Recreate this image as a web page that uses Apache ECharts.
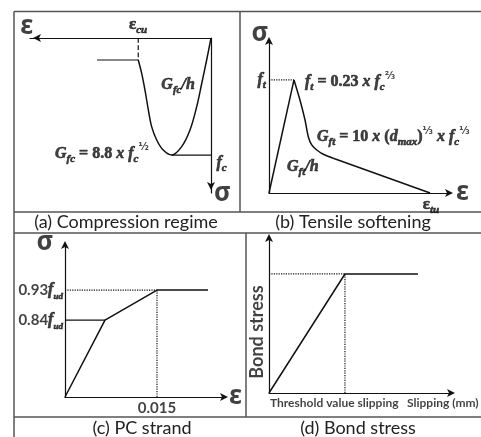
<!DOCTYPE html>
<html><head><meta charset="utf-8">
<script src="https://cdn.jsdelivr.net/npm/echarts@6/dist/echarts.min.js"></script>
<style>html,body{margin:0;padding:0;background:#fff}#c{width:481px;height:437px}</style>
</head><body><div id="c"></div><script>
// ---- (a) Compression regime (normalized units: strain to the left, stress downward)
const compStrain = [0, 2.4, 5.1, 7.9, 11.6, 16.2, 21.7, 26.4, 30.0, 32.8, 34.6, 36.5, 38.3, 40.2];
const compStress = [0, 14.2, 29.2, 44.3, 59.4, 70.1, 75.5, 72.3, 65.8, 57.2, 46.5, 33.5, 22.8, 14.2];
const compResidStrain = [40.2, 63];
const compResidStress = [14.2, 14.2];
const compFcStrain = [0, 21.7];
const compFcStress = [75.5, 75.5];
const compUltStrain = [40.2, 40.2];
const compUltStress = [0, 14.2];
// ---- (b) Tensile softening
const tensRiseStrain = [0, 13.8];
const tensRiseStress = [0, 73.9];
const tensSoftStrain = [13.8, 17.1, 19.9, 21.7, 23.6, 26.4, 30.0, 35.5];
const tensSoftStress = [73.9, 60.8, 47.7, 36.8, 31.4, 28.1, 25.3, 22.7];
const tensTailStrain = [35.5, 89.0];
const tensTailStress = [22.7, 0];
const tensFtStrain = [0, 13.8];
const tensFtStress = [73.9, 73.9];
// ---- (c) PC strand
const strandStrain = [0, 25, 57.5, 89.4];
const strandStress = [0, 50.3, 69.9, 69.9];
const strandLevels = [69.9, 50.3];      // 0.93 f_ud, 0.84 f_ud
const strandYieldStrain = 57.5;          // 0.015
// ---- (d) Bond stress
const bondSlip = [0, 41.5, 81.4];
const bondStress = [0, 76.3, 76.3];
// ---- captions
const captions = ['(a) Compression regime', '(b) Tensile softening', '(c) PC strand', '(d) Bond stress'];

const zip = (xs, ys) => xs.map((x, i) => [x, ys[i]]);
const INK = '#111';
function axis(extra, arrowAtStart) {
  return Object.assign({
    type: 'value', min: 0, max: 100,
    axisLine: { show: true, onZero: false, symbol: arrowAtStart ? ['arrow', 'none'] : ['none', 'arrow'],
      symbolSize: [6, 8], symbolOffset: arrowAtStart ? [3, 0] : [0, 3],
      lineStyle: { color: INK, width: 1.2 } },
    axisTick: { show: false }, axisLabel: { show: false }, splitLine: { show: false }
  }, extra);
}
function line(g, xs, ys, opts) {
  opts = opts || {};
  return {
    type: 'line', xAxisIndex: g, yAxisIndex: g, data: zip(xs, ys), showSymbol: false, silent: true,
    smooth: opts.smooth || false, animation: false,
    lineStyle: { color: INK, width: opts.width || 1.5, type: opts.type || 'solid' }
  };
}
const SER = 'Liberation Serif';
const thick = { textBorderColor: INK, textBorderWidth: 0.6 };
const rich = {
  m: Object.assign({ fontFamily: SER, fontStyle: 'italic', fontWeight: 'bold', fontSize: 16, lineHeight: 22, color: INK }, thick),
  n: Object.assign({ fontFamily: SER, fontWeight: 'bold', fontSize: 16, lineHeight: 22, color: INK }, thick),
  s: Object.assign({ fontFamily: SER, fontStyle: 'italic', fontWeight: 'bold', fontSize: 11, lineHeight: 13, verticalAlign: 'bottom', color: INK }, thick),
  p: { fontFamily: 'DejaVu Sans', fontWeight: 'bold', fontSize: 10, lineHeight: 12, verticalAlign: 'top', color: INK },
  g: { fontFamily: 'Noto Sans', fontWeight: 'bold', fontSize: 26, lineHeight: 28, color: INK },
  e: Object.assign({ fontFamily: SER, fontWeight: 'bold', fontSize: 17, lineHeight: 22, color: INK }, thick),
  k: { fontFamily: 'Lato', fontWeight: 'bold', fontSize: 15, lineHeight: 20, color: INK },
  ks: Object.assign({ fontFamily: SER, fontStyle: 'italic', fontWeight: 'bold', fontSize: 9, lineHeight: 12, verticalAlign: 'bottom', color: INK }, thick),
  t: { fontFamily: 'Lato', fontWeight: 'bold', fontSize: 12, lineHeight: 15, color: INK },
  b: { fontFamily: 'Lato', fontWeight: 'bold', fontSize: 18, lineHeight: 20, color: INK }
};
function labels(g, items) {
  return {
    type: 'scatter', xAxisIndex: g, yAxisIndex: g, symbolSize: 1, silent: true, clip: false, animation: false,
    itemStyle: { color: 'rgba(0,0,0,0)' },
    data: items.map(it => ({
      value: [it[0], it[1]],
      label: Object.assign({ show: true, position: 'inside', align: it[3] || 'center', verticalAlign: 'middle',
        formatter: it[2], rich: rich, rotate: it[4] || 0 })
    }))
  };
}

const option = {
  backgroundColor: '#fff',
  animation: false,
  grid: [
    { left: 30, top: 38, width: 181, height: 155 },
    { left: 269, top: 40, width: 181, height: 153 },
    { left: 65, top: 244, width: 160, height: 153 },
    { left: 269, top: 237, width: 183, height: 156 }
  ],
  xAxis: [
    axis({ gridIndex: 0, inverse: true, position: 'top' }, true),
    axis({ gridIndex: 1, position: 'bottom' }),
    axis({ gridIndex: 2, position: 'bottom' }),
    axis({ gridIndex: 3, position: 'bottom' })
  ],
  yAxis: [
    axis({ gridIndex: 0, inverse: true, position: 'right' }, true),
    axis({ gridIndex: 1, position: 'left' }),
    axis({ gridIndex: 2, position: 'left' }),
    axis({ gridIndex: 3, position: 'left' })
  ],
  series: [
    // (a)
    line(0, compStrain, compStress, { smooth: 0.35 }),
    line(0, compResidStrain, compResidStress, { width: 1.2 }),
    line(0, compFcStrain, compFcStress, { width: 1.2 }),
    line(0, compUltStrain, compUltStress, { type: 'dashed', width: 1.2 }),
    labels(0, [
      [101.7, -7.5, '{g|ε}'],
      [40.3, -8.4, '{e|ε}{s|cu}'],
      [18.2, 30.3, '{m|G}{s|fc}{m|/h}'],
      [86.2, 74.5, '{m|G}{s|fc}{n| = 8.8 }{m|x f}{s|c}{p|½}', 'left'],
      [-3.0, 80.6, '{m|f}{s|c}', 'left'],
      [-1.7, 100.5, '{g|σ}', 'left']
    ]),
    // (b)
    line(1, tensRiseStrain, tensRiseStress),
    line(1, tensSoftStrain, tensSoftStress, { smooth: 0.3 }),
    line(1, tensTailStrain, tensTailStress),
    line(1, tensFtStrain, tensFtStress, { type: 'dotted', width: 1.2 }),
    labels(1, [
      [-5, 104, '{g|σ}'],
      [-1.7, 73.9, '{m|f}{s|t}', 'right'],
      [19.9, 72.5, '{m|f}{s|t}{n| = 0.23 }{m|x f}{s|c}{p|⅔}', 'left'],
      [26.5, 36.6, '{m|G}{s|ft}{n| = 10 }{m|x }{n|(}{m|d}{s|max}{n|)}{p|⅓}{m| x f}{s|c}{p|⅓}', 'left'],
      [9.9, 17, '{m|G}{s|ft}{m|/h}', 'left'],
      [103.3, 0, '{g|ε}', 'left'],
      [89.5, -7.8, '{e|ε}{s|tu}']
    ]),
    // (c)
    line(2, strandStrain, strandStress),
    line(2, [0, strandStrain[1]], [strandLevels[1], strandLevels[1]], { width: 1.2 }),
    line(2, [0, strandYieldStrain], [strandLevels[0], strandLevels[0]], { type: 'dotted', width: 1.2 }),
    line(2, [strandYieldStrain, strandYieldStrain], [0, strandLevels[0]], { type: 'dotted', width: 1.2 }),
    labels(2, [
      [-12.5, 100.6, '{g|σ}'],
      [-1.3, strandLevels[0], '{k|0.93}{m|f}{ks|ud}', 'right'],
      [-1.3, strandLevels[1], '{k|0.84}{m|f}{ks|ud}', 'right'],
      [strandYieldStrain, -7.2, '{k|0.015}'],
      [102.5, 0, '{g|ε}', 'left']
    ]),
    // (d)
    line(3, bondSlip, bondStress),
    line(3, [0, bondSlip[1]], [bondStress[1], bondStress[1]], { type: 'dotted', width: 1.2 }),
    line(3, [bondSlip[1], bondSlip[1]], [0, bondStress[1]], { type: 'dotted', width: 1.2 }),
    labels(3, [
      [-6.6, 39.1, '{b|Bond stress}', 'center', 90],
      [0.5, -6.4, '{t|Threshold value slipping}', 'left'],
      [75.4, -6.4, '{t|Slipping (mm)}', 'left']
    ])
  ],
  graphic: [
    ...[
      [14, 11.5, 481, 11.5], [14, 11.5, 14, 437], [240, 11.5, 240, 212],
      [14, 212, 481, 212], [14, 233, 481, 233], [246, 233, 246, 417], [14, 417, 481, 417]
    ].map(s => ({ type: 'line', shape: { x1: s[0], y1: s[1], x2: s[2], y2: s[3] }, style: { stroke: '#555', lineWidth: 1.5 }, silent: true })),
    ...[[126, 222], [353, 222], [142, 428], [358, 428]].map((p, i) => ({
      type: 'text', x: p[0], y: p[1], silent: true,
      style: { text: captions[i], fontFamily: 'Lato', fontSize: 18, fill: '#222', align: 'center', verticalAlign: 'middle' }
    }))
  ]
};
const chart = echarts.init(document.getElementById('c'), null, { renderer: 'canvas' });
chart.setOption(option);
</script></body></html>
